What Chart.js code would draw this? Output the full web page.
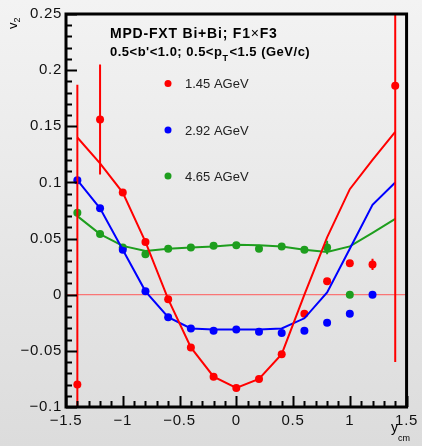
<!DOCTYPE html>
<html>
<head>
<meta charset="utf-8">
<script src="https://cdn.jsdelivr.net/npm/chart.js@4.4.0/dist/chart.umd.min.js"></script>
<style>
  body { margin: 0; background: #e6e6e6; }
  #wrap { width: 422px; height: 446px; }
</style>
</head>
<body>
<div id="wrap"><canvas id="v2Chart" width="422" height="446"></canvas></div>
<script>
// rapidity bins (y_cm)
const yBins = [-1.4, -1.2, -1.0, -0.8, -0.6, -0.4, -0.2, 0, 0.2, 0.4, 0.6, 0.8, 1.0, 1.2, 1.4];

// 1.45 AGeV
const red145Points = [-0.080, 0.156, 0.091, 0.047, -0.004, -0.047, -0.073, -0.083, -0.075, -0.053, -0.017, 0.012, 0.028, 0.027, 0.186];
const red145Errors = [0.267, 0.049, 0, 0, 0, 0, 0, 0, 0, 0, 0, 0, 0, 0.005, 0.246];
const red145Curve  = [0.140, 0.117, 0.091, 0.047, -0.004, -0.047, -0.073, -0.083, -0.075, -0.053, 0.000, 0.051, 0.094, 0.120, 0.145];

// 2.92 AGeV
const blue292Points = [0.102, 0.077, 0.040, 0.003, -0.020, -0.030, -0.032, -0.031, -0.033, -0.034, -0.032, -0.025, -0.017, 0.000, null];
const blue292Errors = [0, 0, 0, 0, 0, 0, 0, 0, 0, 0, 0, 0, 0, 0, 0];
const blue292Curve  = [0.102, 0.077, 0.040, 0.003, -0.020, -0.030, -0.031, -0.031, -0.031, -0.030, -0.021, 0.002, 0.041, 0.080, 0.100];

// 4.65 AGeV
const green465Points = [0.073, 0.054, 0.042, 0.036, 0.041, 0.042, 0.0435, 0.044, 0.041, 0.043, 0.040, 0.042, 0.000, null, null];
const green465Errors = [0, 0, 0, 0, 0, 0, 0, 0, 0, 0, 0, 0.006, 0, 0, 0];
const green465Curve  = [0.070, 0.054, 0.0435, 0.039, 0.041, 0.042, 0.043, 0.0445, 0.044, 0.043, 0.040, 0.038, 0.043, 0.055, 0.0675];

const seriesLabels = ['1.45 AGeV', '2.92 AGeV', '4.65 AGeV'];
const seriesColors = ['#ff0000', '#0000ff', '#1e9e1e'];

const FONT = '"Liberation Sans", Arial, sans-serif';

function toXY(values) {
    return yBins.map((x, i) => ({ x: x, y: values[i] })).filter(p => p.y !== null);
}

function curveSet(values, color) {
    return {
        type: 'line',
        data: toXY(values),
        borderColor: color,
        borderWidth: 2,
        pointRadius: 0,
        tension: 0,
        fill: false
    };
}

function pointSet(values, errors, color) {
    return {
        type: 'scatter',
        data: toXY(values),
        errors: yBins.map((x, i) => ({ x: x, y: values[i], e: errors[i] })).filter(p => p.y !== null),
        backgroundColor: color,
        borderColor: color,
        pointRadius: 4,
        pointBorderWidth: 0,
        showLine: false
    };
}

// --- custom drawing: background, zero line, error bars, frame, ticks, texts ---
const rootStyle = {
    id: 'rootStyle',
    beforeDraw(chart) {
        const c = chart.ctx;
        const g = c.createLinearGradient(0, 0, 0, chart.height);
        g.addColorStop(0, '#f3f3f3');
        g.addColorStop(1, '#dcdcdc');
        c.save();
        c.fillStyle = g;
        c.fillRect(0, 0, chart.width, chart.height);
        c.restore();
        // ROOT fonts look a little wider than Arial
        c.letterSpacing = '0.7px';
    },
    beforeDatasetsDraw(chart) {
        const c = chart.ctx, a = chart.chartArea;
        const y0 = chart.scales.y.getPixelForValue(0);
        c.save();
        c.strokeStyle = '#ff5a5a';
        c.lineWidth = 1;
        c.beginPath();
        c.moveTo(a.left, y0);
        c.lineTo(a.right, y0);
        c.stroke();
        c.restore();
    },
    afterDatasetsDraw(chart) {
        const c = chart.ctx, a = chart.chartArea;
        const xs = chart.scales.x, ys = chart.scales.y;
        c.save();
        c.beginPath();
        c.rect(a.left, a.top, a.right - a.left, a.bottom - a.top);
        c.clip();
        chart.data.datasets.forEach(ds => {
            if (!ds.errors) return;
            c.strokeStyle = ds.borderColor;
            c.lineWidth = 2;
            ds.errors.forEach(p => {
                if (!p.e) return;
                const px = xs.getPixelForValue(p.x);
                c.beginPath();
                c.moveTo(px, ys.getPixelForValue(p.y + p.e));
                c.lineTo(px, ys.getPixelForValue(p.y - p.e));
                c.stroke();
            });
        });
        c.restore();
    },
    afterDraw(chart) {
        const c = chart.ctx, a = chart.chartArea;
        const xs = chart.scales.x, ys = chart.scales.y;
        c.save();

        // tick marks, inside the frame
        c.strokeStyle = '#000';
        c.lineWidth = 2;
        for (let i = 0; i <= 35; i++) {
            const v = -0.1 + i * 0.01;
            const py = Math.round(ys.getPixelForValue(v)) + 0.5;
            const len = (i % 5 === 0) ? 11 : 6;
            c.beginPath();
            c.moveTo(a.left, py);
            c.lineTo(a.left + len, py);
            c.stroke();
        }
        for (let i = 0; i <= 30; i++) {
            const v = -1.5 + i * 0.1;
            const px = Math.round(xs.getPixelForValue(v)) + 0.5;
            const len = (i % 5 === 0) ? 11 : 6;
            c.beginPath();
            c.moveTo(px, a.bottom);
            c.lineTo(px, a.bottom - len);
            c.stroke();
        }

        // frame
        c.lineWidth = 3;
        c.strokeRect(a.left, a.top, a.right - a.left, a.bottom - a.top);

        // title
        c.fillStyle = '#000';
        c.textAlign = 'left';
        c.textBaseline = 'alphabetic';
        c.letterSpacing = '0.8px';
        c.font = 'bold 14px ' + FONT;
        let t1 = 'MPD-FXT Bi+Bi; F1';
        c.fillText(t1, 110, 38);
        let x = 110 + c.measureText(t1).width;
        c.font = '14px ' + FONT;
        c.fillText('×', x, 38);
        x += c.measureText('×').width;
        c.font = 'bold 14px ' + FONT;
        c.fillText('F3', x, 38);

        c.letterSpacing = '0.5px';
        c.font = 'bold 13px ' + FONT;
        let t2 = '0.5<b\'<1.0; 0.5<p';
        c.fillText(t2, 110, 56);
        x = 110 + c.measureText(t2).width;
        c.font = 'bold 9px ' + FONT;
        c.fillText('T', x, 61);
        x += c.measureText('T').width + 1;
        c.font = 'bold 13px ' + FONT;
        c.fillText('<1.5 (GeV/c)', x, 56);

        // legend
        c.letterSpacing = '0px';
        const legendY = [83.5, 130, 176];
        c.font = '13px ' + FONT;
        seriesLabels.forEach((lbl, i) => {
            c.fillStyle = seriesColors[i];
            c.beginPath();
            c.arc(168, legendY[i], 3.5, 0, Math.PI * 2);
            c.fill();
            c.fillStyle = '#222';
            c.fillText(lbl, 185, legendY[i] + 4.5);
        });

        // axis titles
        c.fillStyle = '#000';
        c.save();
        c.translate(17, 29);
        c.rotate(-Math.PI / 2);
        c.font = '13px ' + FONT;
        c.fillText('v', 0, 0);
        const vw = c.measureText('v').width;
        c.font = '9px ' + FONT;
        c.fillText('2', vw, 3);
        c.restore();

        c.font = '14px ' + FONT;
        c.fillText('y', 391, 432);
        c.font = '9px ' + FONT;
        c.fillText('cm', 398, 441);

        c.restore();
        c.letterSpacing = '0px';
    }
};

function fmt(v) {
    const s = String(parseFloat(v.toFixed(2)));
    return s.replace('-', '\u2212');
}

const ctx = document.getElementById('v2Chart').getContext('2d');
const v2Chart = new Chart(ctx, {
    data: {
        datasets: [
            curveSet(red145Curve, seriesColors[0]),
            curveSet(blue292Curve, seriesColors[1]),
            curveSet(green465Curve, seriesColors[2]),
            pointSet(red145Points, red145Errors, seriesColors[0]),
            pointSet(blue292Points, blue292Errors, seriesColors[1]),
            pointSet(green465Points, green465Errors, seriesColors[2])
        ]
    },
    options: {
        responsive: false,
        animation: false,
        layout: { padding: { left: 0, right: 12, top: 14, bottom: 0 } },
        plugins: {
            legend: { display: false },
            tooltip: { enabled: false }
        },
        scales: {
            x: {
                type: 'linear',
                min: -1.5,
                max: 1.5,
                grid: { display: false, drawTicks: false },
                border: { display: false },
                ticks: {
                    stepSize: 0.5,
                    autoSkip: false,
                    maxRotation: 0,
                    padding: 5,
                    color: '#111',
                    font: { family: FONT, size: 15 },
                    callback: v => fmt(v)
                },
                afterFit: s => { s.height = 39; }
            },
            y: {
                type: 'linear',
                min: -0.1,
                max: 0.25,
                grid: { display: false, drawTicks: false },
                border: { display: false },
                ticks: {
                    stepSize: 0.05,
                    autoSkip: false,
                    padding: 4,
                    color: '#111',
                    font: { family: FONT, size: 15 },
                    callback: v => fmt(v)
                },
                afterFit: s => { s.width = 66; }
            }
        }
    },
    plugins: [rootStyle]
});
</script>
</body>
</html>
